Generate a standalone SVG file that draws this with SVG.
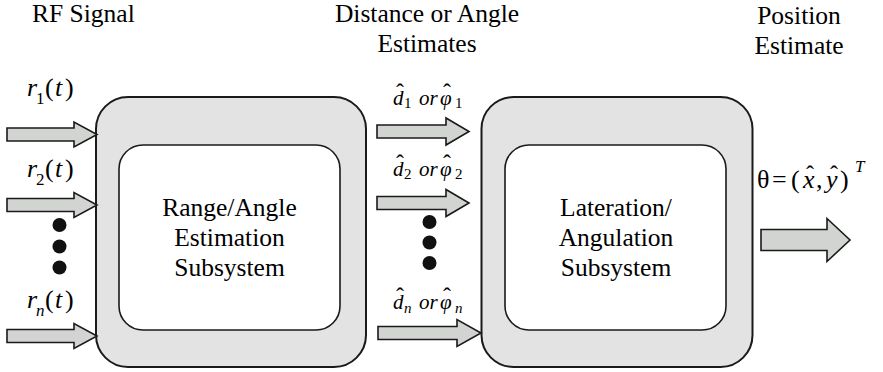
<svg xmlns="http://www.w3.org/2000/svg" width="883" height="372" viewBox="0 0 883 372">
<rect width="883" height="372" fill="#ffffff"/>
<text x="32" y="22" font-size="25.5" font-family="Liberation Serif">RF Signal</text>
<text x="427" y="22" font-size="25.5" font-family="Liberation Serif" text-anchor="middle">Distance or Angle</text>
<text x="427" y="52" font-size="25.5" font-family="Liberation Serif" text-anchor="middle">Estimates</text>
<text x="799" y="24" font-size="25.5" font-family="Liberation Serif" text-anchor="middle">Position</text>
<text x="799" y="54" font-size="25.5" font-family="Liberation Serif" text-anchor="middle">Estimate</text>
<g id="range-angle-estimation">
<rect x="96" y="97" width="270" height="270" rx="32" ry="32" fill="#e3e3e3" stroke="#1a1a1a" stroke-width="2"/>
<rect x="119" y="145" width="221" height="185" rx="24" ry="24" fill="#ffffff" stroke="#1a1a1a" stroke-width="1.6"/>
<text x="229.5" y="216" font-size="25.5" font-family="Liberation Serif" text-anchor="middle">Range/Angle</text>
<text x="229.5" y="246" font-size="25.5" font-family="Liberation Serif" text-anchor="middle">Estimation</text>
<text x="229.5" y="276" font-size="25.5" font-family="Liberation Serif" text-anchor="middle">Subsystem</text>
</g>
<g id="lateration-angulation">
<rect x="481.5" y="97" width="271" height="270" rx="32" ry="32" fill="#e3e3e3" stroke="#1a1a1a" stroke-width="2"/>
<rect x="505" y="145" width="221" height="185" rx="24" ry="24" fill="#ffffff" stroke="#1a1a1a" stroke-width="1.6"/>
<text x="616" y="216" font-size="25.5" font-family="Liberation Serif" text-anchor="middle">Lateration/</text>
<text x="616" y="246" font-size="25.5" font-family="Liberation Serif" text-anchor="middle">Angulation</text>
<text x="616" y="276" font-size="25.5" font-family="Liberation Serif" text-anchor="middle">Subsystem</text>
</g>
<g id="connectors" fill="#d2d4d2" stroke="#1a1a1a" stroke-width="1.6">
<path d="M7,128 H74 V122 L97,134.5 L74,147 V141 H7 Z"/>
<path d="M7,198.5 H74 V192.5 L97,205 L74,217.5 V211.5 H7 Z"/>
<path d="M7,329.5 H74 V323.5 L97,336 L74,348.5 V342.5 H7 Z"/>
<path d="M377,125 H446 V118 L469,131.5 L446,145 V138 H377 Z"/>
<path d="M377,196.5 H446 V189.5 L469,203 L446,216.5 V209.5 H377 Z"/>
<path d="M378,326.5 H457 V319.5 L481,333 L457,346.5 V339.5 H378 Z"/>
<path d="M761,229.5 H827 V218.5 L850,240 L827,261.5 V250.5 H761 Z"/>
</g>
<g id="ellipsis-dots" fill="#111111">
<circle cx="59.5" cy="225" r="7"/>
<circle cx="59.5" cy="246.5" r="7"/>
<circle cx="59.5" cy="267.5" r="7"/>
<circle cx="429.5" cy="222" r="7"/>
<circle cx="429.5" cy="242.5" r="7"/>
<circle cx="429.5" cy="263" r="7"/>
</g>
<g id="label-r1">
<text x="27" y="96" font-size="26" font-family="Liberation Serif" font-style="italic">r</text>
<text x="36" y="104" font-size="17" font-family="Liberation Serif">1</text>
<text x="45" y="96" font-size="26" font-family="Liberation Serif">(</text>
<text x="55" y="96" font-size="26" font-family="Liberation Serif" font-style="italic">t</text>
<text x="65" y="96" font-size="26" font-family="Liberation Serif">)</text>
</g>
<g id="label-r2">
<text x="27" y="177" font-size="26" font-family="Liberation Serif" font-style="italic">r</text>
<text x="36" y="185" font-size="17" font-family="Liberation Serif">2</text>
<text x="45" y="177" font-size="26" font-family="Liberation Serif">(</text>
<text x="55" y="177" font-size="26" font-family="Liberation Serif" font-style="italic">t</text>
<text x="65" y="177" font-size="26" font-family="Liberation Serif">)</text>
</g>
<g id="label-rn">
<text x="27" y="308" font-size="26" font-family="Liberation Serif" font-style="italic">r</text>
<text x="36" y="316" font-size="17" font-family="Liberation Serif" font-style="italic">n</text>
<text x="45" y="308" font-size="26" font-family="Liberation Serif">(</text>
<text x="55" y="308" font-size="26" font-family="Liberation Serif" font-style="italic">t</text>
<text x="65" y="308" font-size="26" font-family="Liberation Serif">)</text>
</g>
<g id="label-e1">
<text x="393" y="105" font-size="21" font-family="Liberation Serif" font-style="italic">d</text>
<text x="400" y="100" font-size="24" font-family="Liberation Serif" text-anchor="middle">ˆ</text>
<text x="404" y="108" font-size="15" font-family="Liberation Serif">1</text>
<text x="419" y="105" font-size="21" font-family="Liberation Serif" font-style="italic">or</text>
<text x="440" y="105" font-size="21" font-family="Liberation Serif" font-style="italic">φ</text>
<text x="447" y="100" font-size="24" font-family="Liberation Serif" text-anchor="middle">ˆ</text>
<text x="455" y="108" font-size="15" font-family="Liberation Serif">1</text>
</g>
<g id="label-e2">
<text x="393" y="176" font-size="21" font-family="Liberation Serif" font-style="italic">d</text>
<text x="400" y="171" font-size="24" font-family="Liberation Serif" text-anchor="middle">ˆ</text>
<text x="404" y="179" font-size="15" font-family="Liberation Serif">2</text>
<text x="419" y="176" font-size="21" font-family="Liberation Serif" font-style="italic">or</text>
<text x="440" y="176" font-size="21" font-family="Liberation Serif" font-style="italic">φ</text>
<text x="447" y="171" font-size="24" font-family="Liberation Serif" text-anchor="middle">ˆ</text>
<text x="455" y="179" font-size="15" font-family="Liberation Serif">2</text>
</g>
<g id="label-en">
<text x="393" y="309" font-size="21" font-family="Liberation Serif" font-style="italic">d</text>
<text x="400" y="304" font-size="24" font-family="Liberation Serif" text-anchor="middle">ˆ</text>
<text x="404" y="313" font-size="15" font-family="Liberation Serif" font-style="italic">n</text>
<text x="419" y="309" font-size="21" font-family="Liberation Serif" font-style="italic">or</text>
<text x="440" y="309" font-size="21" font-family="Liberation Serif" font-style="italic">φ</text>
<text x="447" y="304" font-size="24" font-family="Liberation Serif" text-anchor="middle">ˆ</text>
<text x="455" y="313" font-size="15" font-family="Liberation Serif" font-style="italic">n</text>
</g>
<g id="label-theta">
<text x="757" y="188" font-size="26" font-family="Liberation Serif">θ</text>
<text x="772" y="188" font-size="26" font-family="Liberation Serif">=</text>
<text x="791" y="188" font-size="26" font-family="Liberation Serif">(</text>
<text x="803" y="188" font-size="26" font-family="Liberation Serif" font-style="italic">x</text>
<text x="810" y="182" font-size="24" font-family="Liberation Serif" text-anchor="middle">ˆ</text>
<text x="816" y="188" font-size="26" font-family="Liberation Serif">,</text>
<text x="826" y="188" font-size="26" font-family="Liberation Serif" font-style="italic">y</text>
<text x="834" y="182" font-size="24" font-family="Liberation Serif" text-anchor="middle">ˆ</text>
<text x="840" y="188" font-size="26" font-family="Liberation Serif">)</text>
<text x="855" y="172" font-size="17" font-family="Liberation Serif" font-style="italic">T</text>
</g>
</svg>
